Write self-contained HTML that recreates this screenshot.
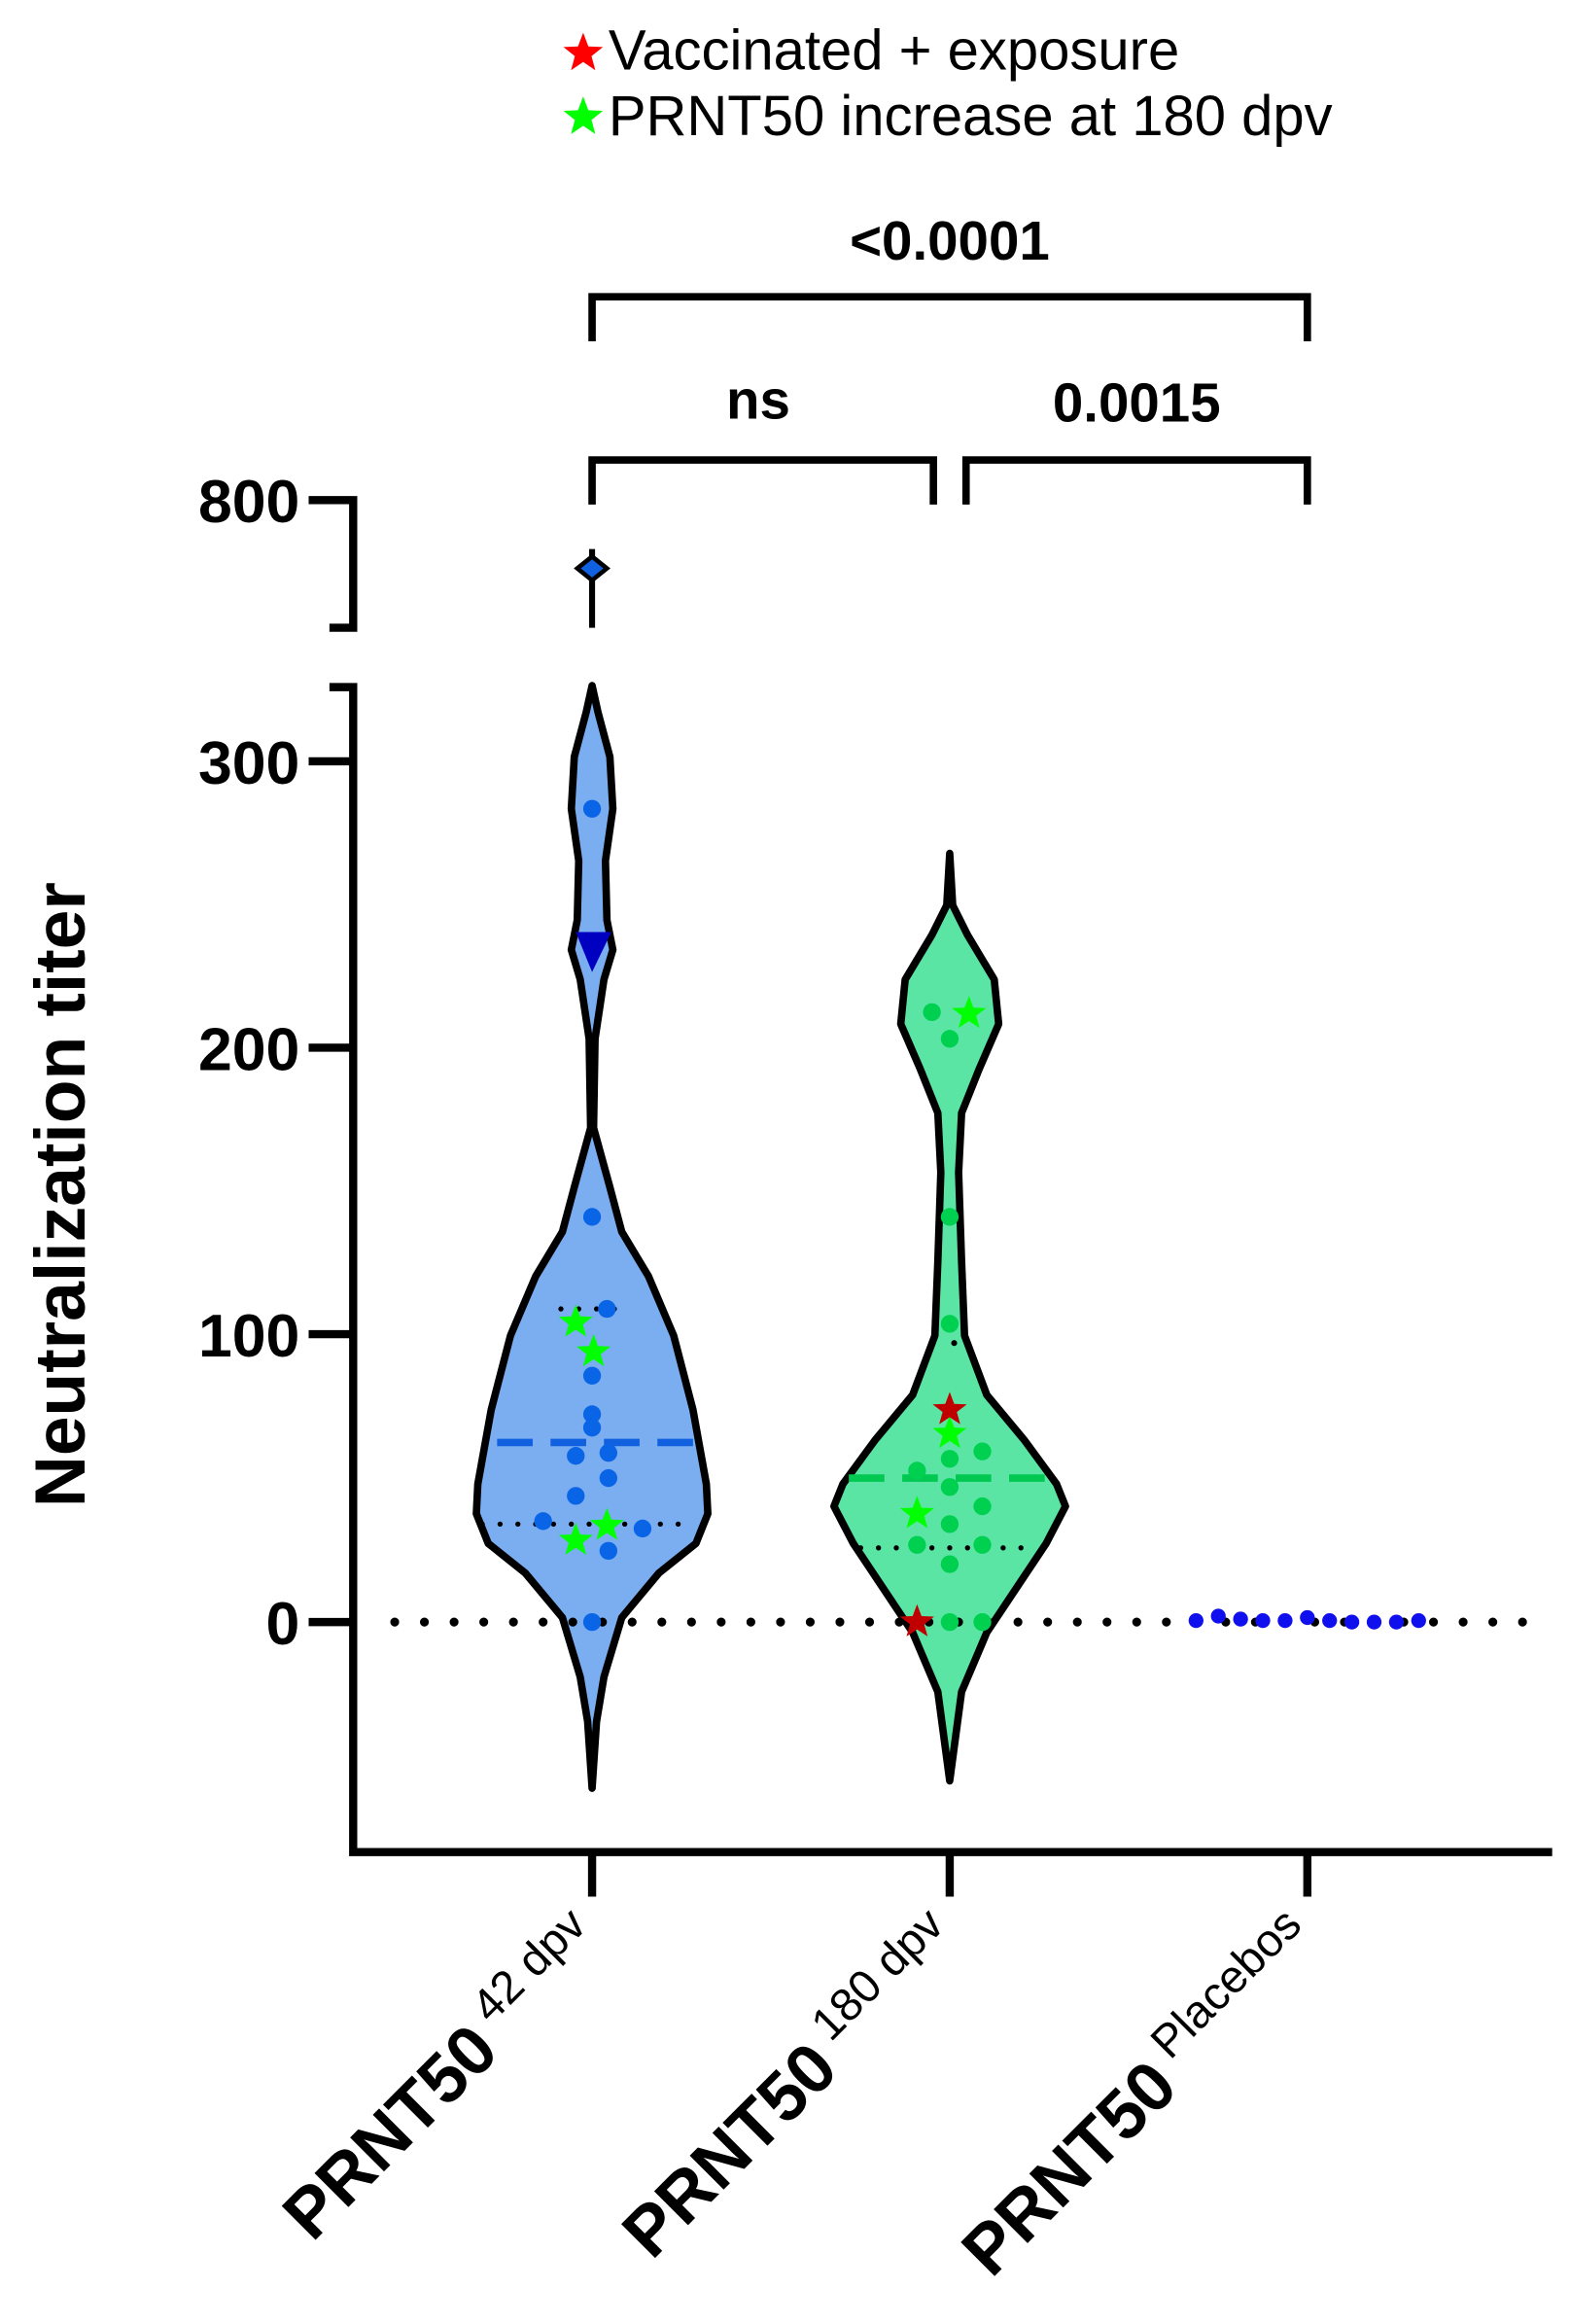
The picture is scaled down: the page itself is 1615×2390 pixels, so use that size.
<!DOCTYPE html>
<html><head><meta charset="utf-8"><style>html,body{margin:0;padding:0;background:#fff}svg{display:block}</style></head>
<body>
<svg width="1615" height="2390" viewBox="0 0 1058 1566" preserveAspectRatio="none" xmlns="http://www.w3.org/2000/svg" font-family="Liberation Sans, sans-serif">
<defs>
<path id="star" d="M0,-14 L3.5,-4.7 L13.3,-4.3 L5.6,1.8 L8.2,11.3 L0,5.8 L-8.2,11.3 L-5.6,1.8 L-13.3,-4.3 L-3.5,-4.7 Z"/>
<path id="sstar" d="M0,-12 L3,-4 L11.5,-3.7 L4.8,1.5 L7.1,9.7 L0,5 L-7.1,9.7 L-4.8,1.5 L-11.5,-3.7 L-3,-4 Z"/>
</defs>
<use href="#star" x="393" y="36" fill="#ff0000"/>
<text x="410" y="47" font-size="38">Vaccinated + exposure</text>
<use href="#star" x="393" y="79" fill="#00ff00"/>
<text x="410" y="91" font-size="38">PRNT50 increase at 180 dpv</text>
<g stroke="#000" stroke-width="5" fill="none">
<path d="M399,230 V200 H881 V230"/>
<path d="M399,340 V310 H629 V340"/>
<path d="M651,340 V310 H881 V340"/>
</g>
<g font-weight="bold" font-size="37" text-anchor="middle">
<text x="640" y="175">&lt;0.0001</text>
<text x="511" y="282">ns</text>
<text x="766" y="284">0.0015</text>
</g>
<g stroke="#000" stroke-width="5.5" fill="none">
<path d="M208,337 H238 V423 H222"/>
<path d="M222,463 H238 V1248 H1046"/>
<path d="M238,513 H208 M238,706 H208 M238,899 H208 M238,1093 H208"/>
<path d="M399,1248 V1278 M640,1248 V1278 M881,1248 V1278"/>
</g>
<g font-weight="bold" font-size="41" text-anchor="end">
<text x="202" y="352">800</text>
<text x="202" y="528">300</text>
<text x="202" y="721">200</text>
<text x="202" y="914">100</text>
<text x="202" y="1108">0</text>
</g>
<text transform="translate(57,805) rotate(-90)" font-weight="bold" font-size="48" text-anchor="middle">Neutralization titer</text>
<path d="M399,462 L403,480 L411,510 L413,545 L408,580 L409,620 L413,640 L407,660 L401,700 L400,760 L411,800 L419,830 L437,860 L454,900 L467,950 L476,1000 L477,1020 L469,1040 L444,1060 L419,1090 L407,1130 L402,1160 L399,1205 L396,1160 L391,1130 L379,1090 L354,1060 L329,1040 L321,1020 L322,1000 L331,950 L344,900 L361,860 L379,830 L387,800 L398,760 L397,700 L391,660 L385,640 L389,620 L390,580 L385,545 L387,510 L395,480 Z" fill="#7aaef0" stroke="#000" stroke-width="5" stroke-linejoin="round"/>
<path d="M640,575 L642,610 L652,630 L670,660 L673,690 L660,720 L648,750 L646,790 L648,850 L650,900 L665,940 L690,970 L712,1000 L718,1015 L705,1040 L685,1070 L665,1100 L648,1140 L640,1200 L632,1140 L615,1100 L595,1070 L575,1040 L562,1015 L568,1000 L590,970 L615,940 L630,900 L632,850 L634,790 L632,750 L620,720 L607,690 L610,660 L628,630 L638,610 Z" fill="#5ae5a5" stroke="#000" stroke-width="5" stroke-linejoin="round"/>
<path d="M399,370 V423" stroke="#000" stroke-width="4"/>
<path d="M399,375 L409,383 L399,391 L389,383 Z" fill="#1060e0" stroke="#000" stroke-width="3"/>
<path d="M266,1093 H1046" stroke="#000" stroke-width="6" stroke-linecap="round" stroke-dasharray="0 20"/>
<path d="M335,972 H467" stroke="#1060e0" stroke-width="5" stroke-dasharray="24 12"/>
<path d="M325,1027 H468" stroke="#000" stroke-width="3.5" stroke-linecap="round" stroke-dasharray="0 12"/>
<path d="M378,882 H416" stroke="#000" stroke-width="3.5" stroke-linecap="round" stroke-dasharray="0 12"/>
<path d="M572,996 H710" stroke="#00c850" stroke-width="5" stroke-dasharray="24 12"/>
<path d="M580,1043 H700" stroke="#000" stroke-width="3.5" stroke-linecap="round" stroke-dasharray="0 12"/>
<circle cx="643" cy="905" r="2" fill="#000"/>
<g fill="#0a64e6">
<circle cx="399" cy="545" r="6"/><circle cx="399" cy="820" r="6"/><circle cx="409" cy="882" r="6"/>
<circle cx="399" cy="927" r="6"/><circle cx="399" cy="953" r="6"/><circle cx="399" cy="962" r="6"/>
<circle cx="388" cy="981" r="6"/><circle cx="410" cy="979" r="6"/><circle cx="410" cy="996" r="6"/>
<circle cx="388" cy="1008" r="6"/><circle cx="366" cy="1025" r="6"/><circle cx="433" cy="1030" r="6"/>
<circle cx="410" cy="1045" r="6"/><circle cx="399" cy="1093" r="6"/>
</g>
<path d="M388,628 H412 L399,655 Z" fill="#0000c0"/>
<g fill="#00ff00">
<use href="#sstar" x="388" y="891"/><use href="#sstar" x="400" y="911"/>
<use href="#sstar" x="388" y="1038"/><use href="#sstar" x="409" y="1028"/>
</g>
<g fill="#00d050">
<circle cx="628" cy="682" r="6"/><circle cx="640" cy="700" r="6"/><circle cx="640" cy="820" r="6"/>
<circle cx="640" cy="892" r="6"/><circle cx="618" cy="991" r="6"/><circle cx="640" cy="983" r="6"/>
<circle cx="640" cy="1002" r="6"/><circle cx="662" cy="978" r="6"/><circle cx="662" cy="1015" r="6"/>
<circle cx="640" cy="1027" r="6"/><circle cx="618" cy="1041" r="6"/><circle cx="662" cy="1041" r="6"/>
<circle cx="640" cy="1054" r="6"/><circle cx="640" cy="1093" r="6"/><circle cx="662" cy="1093" r="6"/>
</g>
<g fill="#00ff00"><use href="#sstar" x="653" y="683"/><use href="#sstar" x="640" y="966"/><use href="#sstar" x="618" y="1020"/></g>
<g fill="#c00000"><use href="#sstar" x="640" y="950"/><use href="#sstar" x="618" y="1093"/></g>
<g fill="#1010ee">
<circle cx="806" cy="1092" r="5"/><circle cx="821" cy="1089" r="5"/><circle cx="836" cy="1091" r="5"/>
<circle cx="851" cy="1092" r="5"/><circle cx="866" cy="1092" r="5"/><circle cx="881" cy="1090" r="5"/>
<circle cx="896" cy="1092" r="5"/><circle cx="911" cy="1093" r="5"/><circle cx="926" cy="1093" r="5"/>
<circle cx="941" cy="1093" r="5"/><circle cx="956" cy="1092" r="5"/>
</g>
<g font-size="47" font-weight="bold">
<text transform="translate(410,1312) rotate(-45)" text-anchor="end">PRNT50<tspan font-weight="normal" font-size="31" dy="-19" dx="9">42 dpv</tspan></text>
<text transform="translate(651,1312) rotate(-45)" text-anchor="end">PRNT50<tspan font-weight="normal" font-size="31" dy="-19" dx="9">180 dpv</tspan></text>
<text transform="translate(892,1312) rotate(-45)" text-anchor="end">PRNT50<tspan font-weight="normal" font-size="31" dy="-19" dx="9">Placebos</tspan></text>
</g>
</svg>
</body></html>
